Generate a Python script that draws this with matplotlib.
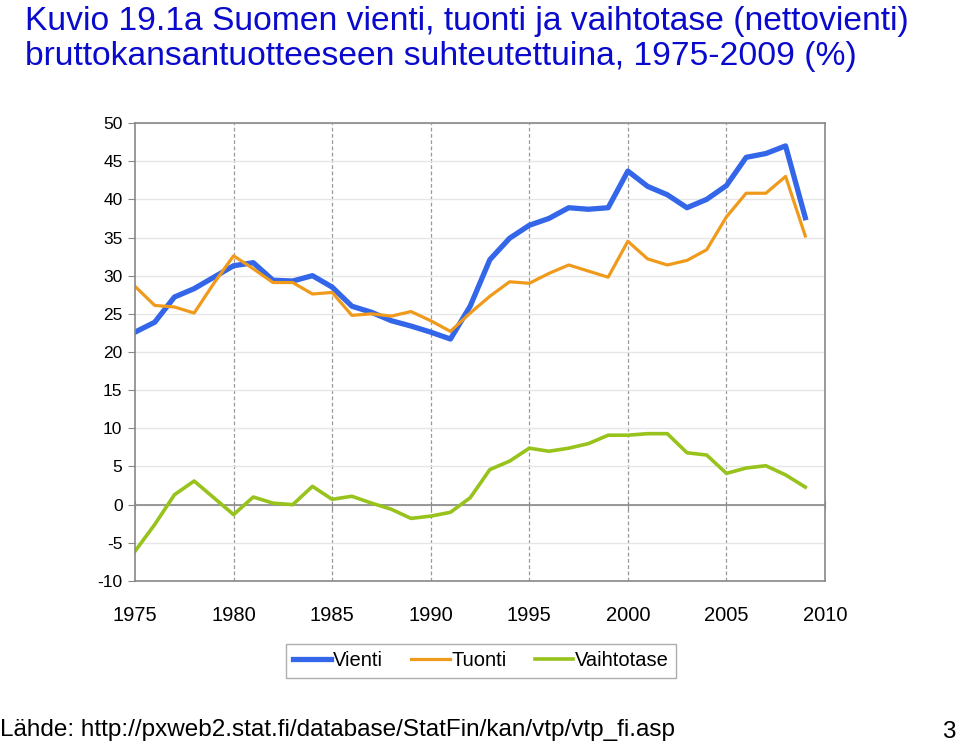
import matplotlib
matplotlib.use('Agg')
import matplotlib.pyplot as plt
import numpy as np

plt.rcParams['font.family'] = ['Liberation Sans', 'DejaVu Sans']
plt.rcParams['axes.unicode_minus'] = False

years = list(range(1975, 2010))
vienti = [22.6, 23.9, 27.2, 28.3, 29.8, 31.3, 31.7, 29.4, 29.3, 30.0,
          28.5, 26.0, 25.2, 24.1, 23.4, 22.6, 21.7, 26.0, 32.1, 34.9,
          36.6, 37.5, 38.9, 38.7, 38.9, 43.7, 41.7, 40.6, 38.9, 40.0,
          41.8, 45.5, 46.0, 47.0, 37.6]
tuonti = [28.6, 26.1, 25.9, 25.1, 29.0, 32.6, 30.9, 29.1, 29.1, 27.6,
          27.8, 24.8, 25.0, 24.7, 25.3, 24.1, 22.7, 25.1, 27.3, 29.2,
          29.0, 30.3, 31.4, 30.6, 29.8, 34.5, 32.2, 31.4, 32.0, 33.4,
          37.7, 40.8, 40.8, 43.0, 35.2]
vaihtotase = [-6.1, -2.6, 1.3, 3.1, 0.9, -1.3, 1.0, 0.2, 0.0, 2.4,
              0.7, 1.1, 0.2, -0.6, -1.8, -1.5, -1.0, 0.9, 4.6, 5.7,
              7.4, 7.0, 7.4, 8.0, 9.1, 9.1, 9.3, 9.3, 6.8, 6.5,
              4.1, 4.8, 5.1, 3.9, 2.3]
labels = ['Vienti', 'Tuonti', 'Vaihtotase']

fig = plt.figure(figsize=(9.6, 7.44), dpi=100)
ax = fig.add_axes([135/960, 1 - 581/744, 690/960, 458/744])

ax.plot(years, vienti, color='#3366e8', lw=3.8, label=labels[0], solid_joinstyle='round')
ax.plot(years, tuonti, color='#f09a1c', lw=2.3, label=labels[1])
ax.plot(years, vaihtotase, color='#98c21c', lw=2.6, label=labels[2])

ax.set_xlim(1975, 2010)
ax.set_ylim(-10, 50)
ax.set_yticks(np.arange(-10, 51, 5))
ax.set_xticks(np.arange(1975, 2011, 5))
ax.yaxis.grid(True, color='#e6e6e6', lw=1)
for x in range(1980, 2010, 5):
    ax.axvline(x, color='#999999', lw=0.9, ls=(0, (3, 2)), zorder=0)
ax.axhline(0, color='#888888', lw=1.2, zorder=1)
ax.set_axisbelow(True)

for s in ax.spines.values():
    s.set_color('#888888')
    s.set_linewidth(1.2)
ax.tick_params(axis='y', labelsize=12.5, length=5, color='#888888', pad=4)
ax.tick_params(axis='x', labelsize=14.5, length=0, pad=18)

# tick marks on the zero line, like the Excel category axis
sec = ax.secondary_xaxis(10/60)
sec.set_xticks(np.arange(1975, 2011, 5))
sec.tick_params(direction='inout', length=6, color='#888888', labelbottom=False, labeltop=False)
sec.spines['bottom'].set_visible(False)
sec.spines['top'].set_visible(False)

leg = fig.legend(loc='center', bbox_to_anchor=(481/960, 1 - 661/744), ncol=3,
                 fontsize=14.5, frameon=True, fancybox=False, handlelength=1.9,
                 handletextpad=0.1, columnspacing=1.4, borderpad=0.35)
leg.get_frame().set_edgecolor('#999999')
leg.get_frame().set_linewidth(1)

fig.text(25/960, 1 - 30/744, 'Kuvio 19.1a Suomen vienti, tuonti ja vaihtotase (nettovienti)',
         color='#0a0acc', fontsize=24.2, va='baseline')
fig.text(25/960, 1 - 65/744, 'bruttokansantuotteeseen suhteutettuina, 1975-2009 (%)',
         color='#0a0acc', fontsize=24.2, va='baseline')
fig.text(0, 1 - 736/744, 'Lähde: http://pxweb2.stat.fi/database/StatFin/kan/vtp/vtp_fi.asp',
         fontsize=17.5, va='baseline')
fig.text(956/960, 1 - 743/744, '3', fontsize=17.5, ha='right', va='bottom')

fig.savefig('out.png', dpi=100)
